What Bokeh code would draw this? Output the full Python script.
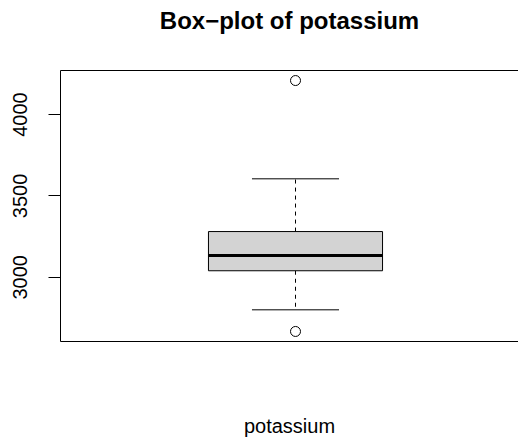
from bokeh.plotting import figure
from bokeh.models import Range1d, LinearAxis, FixedTicker, ColumnDataSource
from bokeh.embed import file_html
from bokeh.resources import INLINE

# --- data ---
variable = ["potassium"]
title_text = "Box\u2212plot of potassium"
lower_whisker = [2800]
q1 = [3040]
median = [3134]
q3 = [3281]
upper_whisker = [3605]
outliers = [4209, 2667]
y_ticks = [3000, 3500, 4000]

FONT = "Liberation Sans"

lo_all = min(outliers + lower_whisker)
hi_all = max(outliers + upper_whisker)
span = hi_all - lo_all
y_start = lo_all - 0.04 * span
y_end = hi_all + 0.04 * span

# R-like x limits 0.5..1.5 widened by 4%; right part of the frame is cut off by the page edge
x_start = 0.46
x_end = 0.46 + 1.08 * 458 / 470

p = figure(width=518, height=439, output_backend="svg", toolbar_location=None,
           x_range=Range1d(x_start, x_end), y_range=Range1d(y_start, y_end),
           min_border_left=60, min_border_right=0, min_border_top=70, min_border_bottom=98,
           x_axis_location=None, y_axis_location=None)
p.outline_line_color = None
p.grid.visible = False
p.background_fill_color = "white"
p.border_fill_color = "white"


def bare_axis():
    a = LinearAxis(ticker=FixedTicker(ticks=[]))
    a.major_tick_out = 0
    a.major_tick_in = 0
    a.minor_tick_out = 0
    a.minor_tick_in = 0
    a.axis_line_color = "black"
    return a


# left axis
ya = LinearAxis(ticker=FixedTicker(ticks=y_ticks))
ya.major_tick_out = 12
ya.major_tick_in = 0
ya.minor_tick_out = 0
ya.minor_tick_in = 0
ya.major_label_orientation = "vertical"
ya.major_label_text_font = FONT
ya.major_label_text_font_size = "20px"
ya.major_label_text_color = "black"
ya.major_label_standoff = 21
ya.axis_line_color = "black"
ya.major_tick_line_color = "black"
p.add_layout(ya, "left")

# bottom axis (frame line + variable label)
xa = bare_axis()
xa.axis_label = variable[0]
xa.axis_label_text_font = FONT
xa.axis_label_text_font_size = "20px"
xa.axis_label_text_font_style = "normal"
xa.axis_label_text_color = "black"
xa.axis_label_standoff = 73
p.add_layout(xa, "below")

# top axis (frame line + main title)
ta = bare_axis()
ta.axis_label = title_text
ta.axis_label_text_font = FONT
ta.axis_label_text_font_size = "24px"
ta.axis_label_text_font_style = "bold"
ta.axis_label_text_color = "black"
ta.axis_label_standoff = 37
p.add_layout(ta, "above")

pos = [1.0]
box_half = 0.2
staple_half = 0.1
src = ColumnDataSource(dict(x=pos, left=[x - box_half for x in pos], right=[x + box_half for x in pos],
                            sl=[x - staple_half for x in pos], sr=[x + staple_half for x in pos],
                            lw=lower_whisker, q1=q1, med=median, q3=q3, uw=upper_whisker))

# whiskers (dashed)
p.segment(x0="x", y0="q3", x1="x", y1="uw", source=src, line_color="black", line_width=1, line_dash="4 4")
p.segment(x0="x", y0="q1", x1="x", y1="lw", source=src, line_color="black", line_width=1, line_dash="4 4")
# staples
p.segment(x0="sl", y0="uw", x1="sr", y1="uw", source=src, line_color="black", line_width=1)
p.segment(x0="sl", y0="lw", x1="sr", y1="lw", source=src, line_color="black", line_width=1)
# box
p.quad(left="left", right="right", bottom="q1", top="q3", source=src,
       fill_color="#d3d3d3", line_color="black", line_width=1)
# median
p.segment(x0="left", y0="med", x1="right", y1="med", source=src, line_color="black", line_width=3)
# outliers
p.scatter(x=[pos[0]] * len(outliers), y=outliers, marker="circle", size=10,
          fill_color=None, line_color="black", line_width=1)

open("out.html", "w").write(file_html(p, INLINE))
